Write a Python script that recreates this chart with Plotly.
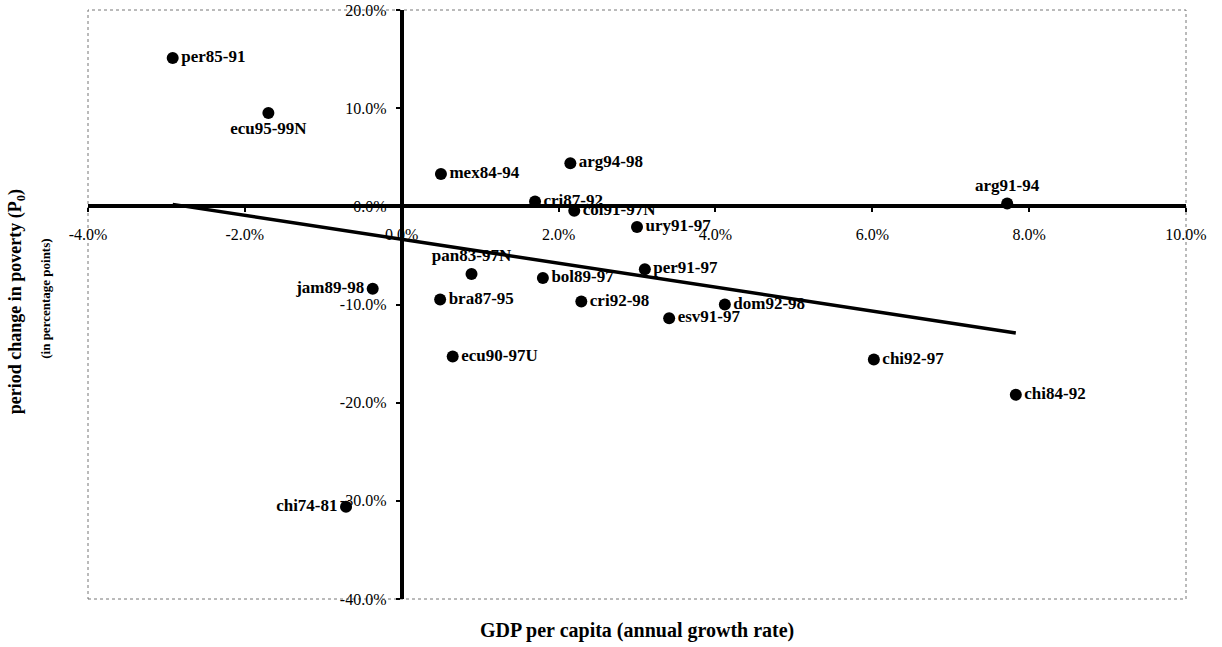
import plotly.graph_objects as go

# Data (percent units)
labels = ["per85-91", "ecu95-99N", "mex84-94", "arg94-98", "cri87-92", "col91-97N",
          "ury91-97", "pan83-97N", "bol89-97", "per91-97", "bra87-95", "cri92-98",
          "dom92-98", "esv91-97", "ecu90-97U", "chi92-97", "chi84-92", "arg91-94",
          "jam89-98", "chi74-81"]
gdp_growth = [-2.92, -1.70, 0.50, 2.15, 1.70, 2.20,
              3.00, 0.89, 1.80, 3.10, 0.49, 2.29,
              4.12, 3.41, 0.65, 6.02, 7.83, 7.72,
              -0.37, -0.71]
poverty_change = [15.1, 9.5, 3.3, 4.4, 0.5, -0.45,
                  -2.1, -6.9, -7.3, -6.4, -9.5, -9.7,
                  -10.0, -11.4, -15.3, -15.6, -19.2, 0.3,
                  -8.4, -30.6]
label_pos = ["middle right", "bottom center", "middle right", "middle right", "middle right",
             "middle right", "middle right", "top center", "middle right", "middle right",
             "middle right", "middle right", "middle right", "middle right", "middle right",
             "middle right", "middle right", "top center", "middle left", "middle left"]

trend_x = [-2.92, 7.83]
trend_y = [0.2, -12.9]

x_ticks = [-4, -2, 0, 2, 4, 6, 8, 10]
x_ticktext = ["-4.0%", "-2.0%", "0.0%", "2.0%", "4.0%", "6.0%", "8.0%", "10.0%"]
y_ticks = [-40, -30, -20, -10, 0, 10, 20]
y_ticktext = ["-40.0%", "-30.0%", "-20.0%", "-10.0%", "0.0%", "10.0%", "20.0%"]

SERIF = "Liberation Serif, Times New Roman, serif"

fig = go.Figure()
fig.add_trace(go.Scatter(
    x=trend_x, y=trend_y, mode="lines",
    line=dict(color="black", width=3.5), hoverinfo="skip", showlegend=False))
fig.add_trace(go.Scatter(
    x=gdp_growth, y=poverty_change, mode="markers+text",
    text=["<b>%s</b>" % t for t in labels], textposition=label_pos,
    textfont=dict(family=SERIF, size=17, color="black"),
    marker=dict(color="black", size=12), showlegend=False, cliponaxis=False))

fig.update_layout(
    width=1222, height=647,
    margin=dict(l=88, r=36, t=10, b=48, autoexpand=False),
    paper_bgcolor="white", plot_bgcolor="white",
    font=dict(family=SERIF, size=16, color="black"),
    xaxis=dict(range=[-4, 10], anchor="free", position=40/60, automargin=False,
               showline=True, linewidth=4, linecolor="black",
               ticks="outside", ticklen=4, tickwidth=2, tickcolor="black",
               tickvals=x_ticks, ticktext=x_ticktext, ticklabelstandoff=8,
               showgrid=False, zeroline=False),
    yaxis=dict(range=[-40, 20], anchor="free", position=4/14, automargin=False,
               showline=True, linewidth=4, linecolor="black",
               ticks="outside", ticklen=4, tickwidth=2, tickcolor="black",
               tickvals=y_ticks, ticktext=y_ticktext, ticklabelstandoff=6,
               showgrid=False, zeroline=False),
    shapes=[dict(type="rect", xref="paper", yref="paper", x0=0, x1=1, y0=0, y1=1,
                 line=dict(color="#777777", width=1, dash="dot"), layer="below")],
    annotations=[
        dict(text="<b>GDP per capita (annual growth rate)</b>", xref="paper", yref="paper",
             x=0.5, y=-0.053, xanchor="center", yanchor="middle", showarrow=False,
             font=dict(family=SERIF, size=20)),
        dict(text="<b>period change in poverty (P<sub>0</sub>)</b>", xref="paper", yref="paper",
             x=-0.065, y=0.505, xanchor="center", yanchor="middle", showarrow=False,
             textangle=-90, font=dict(family=SERIF, size=18)),
        dict(text="<b>(in percentage points)</b>", xref="paper", yref="paper",
             x=-0.039, y=0.51, xanchor="center", yanchor="middle", showarrow=False,
             textangle=-90, font=dict(family=SERIF, size=13)),
    ],
)

fig.write_html("out.html", config={"displayModeBar": False},
               post_script="document.body.style.margin='0';document.body.style.overflow='hidden';")
